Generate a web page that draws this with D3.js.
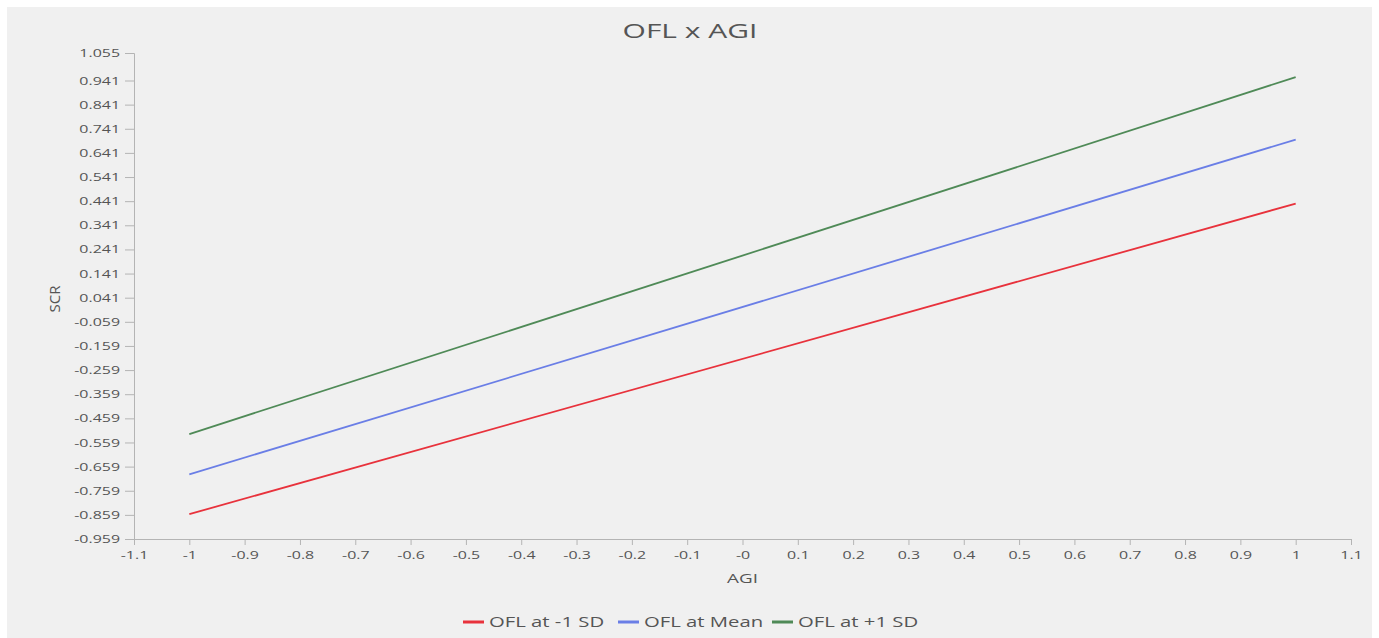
<!DOCTYPE html>
<html>
<head>
<meta charset="utf-8">
<script src="https://cdn.jsdelivr.net/npm/d3@7"></script>
<style>
  body { margin: 0; background: #fff; font-family: "Open Sans", "Noto Sans", sans-serif; }
  svg text { fill: #555; }
</style>
</head>
<body>
<svg id="chart"></svg>
<script>
// series: value of SCR at AGI = -1 and AGI = 1
const xValues = [-1, 1];
const lowSD = [-0.856, 0.431];
const meanSD = [-0.691, 0.696];
const highSD = [-0.524, 0.955];

const seriesNames = ["OFL at -1 SD", "OFL at Mean", "OFL at +1 SD"];
const seriesColors = ["#e8323c", "#6a7ee6", "#4f8a57"];

const xTicks = d3.range(-11, 12).map((d) => d / 10);
const yTicks = [1.055].concat(d3.range(9, -11, -1).map((d) => d / 10 + 0.041));

const width = 1379;
const height = 638;
const margin = { top: 53, right: 28, bottom: 99, left: 134 };
const stretch = 1.45; // the text in the picture is drawn wide

const svg = d3.select("#chart").attr("width", width).attr("height", height);

svg.append("rect")
  .attr("x", 7).attr("y", 7)
  .attr("width", 1365).attr("height", 631)
  .attr("fill", "#f0f0f0");

const x = d3.scaleLinear().domain([-1.1, 1.1]).range([margin.left, width - margin.right]);
const y = d3.scaleLinear().domain([-0.959, 1.055]).range([height - margin.bottom, margin.top]);

const xAxis = svg.append("g")
  .attr("transform", `translate(0, ${height - margin.bottom})`)
  .call(d3.axisBottom(x)
    .tickValues(xTicks)
    .tickSize(6)
    .tickPadding(6)
    .tickFormat((d) => (Math.abs(d) < 1e-9 ? "-0" : String(+d.toFixed(1)))));

const yAxis = svg.append("g")
  .attr("transform", `translate(${margin.left}, 0)`)
  .call(d3.axisLeft(y)
    .tickValues(yTicks)
    .tickSize(9)
    .tickPadding(5)
    .tickFormat((d) => d.toFixed(3)));

[xAxis, yAxis].forEach((g) => {
  g.select(".domain").attr("stroke", "#b4b4b4");
  g.selectAll(".tick line").attr("stroke", "#b4b4b4");
  g.selectAll(".tick text")
    .style("font-size", "11px")
    .style("font-family", "'Open Sans', sans-serif")
    .attr("fill", "#555")
    .attr("transform", `scale(${stretch},1)`);
});
yAxis.selectAll(".tick text").attr("x", -14 / stretch);

const series = [lowSD, meanSD, highSD];
const line = d3.line()
  .x((d, i) => x(xValues[i]))
  .y((d) => y(d));

svg.append("g")
  .selectAll("path")
  .data(series)
  .join("path")
  .attr("d", line)
  .attr("fill", "none")
  .attr("stroke", (d, i) => seriesColors[i])
  .attr("stroke-width", 1.8);

svg.append("text")
  .attr("transform", "translate(690, 38) scale(1.5,1)")
  .attr("text-anchor", "middle")
  .style("font-size", "20px")
  .attr("fill", "#333")
  .text("OFL x AGI");

svg.append("text")
  .attr("transform", `translate(${(x.range()[0] + x.range()[1]) / 2}, 583) scale(${stretch},1)`)
  .attr("text-anchor", "middle")
  .style("font-size", "13px")
  .attr("fill", "#444")
  .text("AGI");

svg.append("text")
  .attr("transform", "translate(60, 299) rotate(-90)")
  .attr("text-anchor", "middle")
  .style("font-size", "15px")
  .attr("fill", "#444")
  .text("SCR");

const legendX = [463, 618, 772];
const legend = svg.append("g")
  .selectAll("g")
  .data(seriesNames)
  .join("g")
  .attr("transform", (d, i) => `translate(${legendX[i]}, 622)`);

legend.append("line")
  .attr("x1", 0).attr("x2", 21)
  .attr("stroke", (d, i) => seriesColors[i])
  .attr("stroke-width", 3);

legend.append("text")
  .attr("transform", `translate(26, 5) scale(${stretch},1)`)
  .style("font-size", "14px")
  .text((d) => d);
</script>
</body>
</html>
